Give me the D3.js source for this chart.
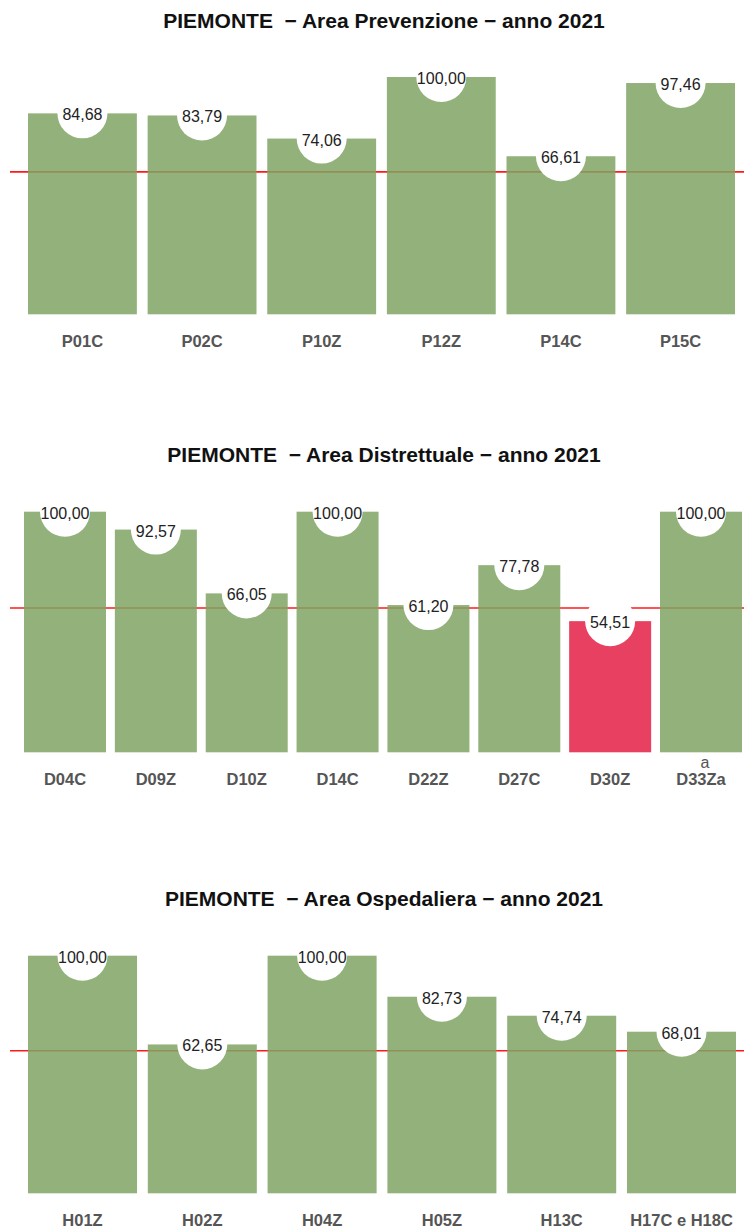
<!DOCTYPE html>
<html>
<head>
<meta charset="utf-8">
<script src="https://cdn.jsdelivr.net/npm/d3@7"></script>
<style>
  body { margin: 0; background: #fff; }
  text { font-family: "Liberation Sans", Arial, sans-serif; }
  .title { white-space: pre; }
</style>
</head>
<body>
<div id="chart"></div>
<script>
// Data
const titles = [
  'PIEMONTE  \u2212 Area Prevenzione \u2212 anno 2021',
  'PIEMONTE  \u2212 Area Distrettuale \u2212 anno 2021',
  'PIEMONTE  \u2212 Area Ospedaliera \u2212 anno 2021'
]
const prevCategories = ['P01C', 'P02C', 'P10Z', 'P12Z', 'P14C', 'P15C']
const prevValues = [84.68, 83.79, 74.06, 100.00, 66.61, 97.46]
const distCategories = ['D04C', 'D09Z', 'D10Z', 'D14C', 'D22Z', 'D27C', 'D30Z', 'D33Za']
const distValues = [100.00, 92.57, 66.05, 100.00, 61.20, 77.78, 54.51, 100.00]
const ospCategories = ['H01Z', 'H02Z', 'H04Z', 'H05Z', 'H13C', 'H17C e H18C']
const ospValues = [100.00, 62.65, 100.00, 82.73, 74.74, 68.01]
const threshold = 60

// Layout of each panel (pixels)
const panels = [
  { title: titles[0], cats: prevCategories, vals: prevValues, titleY: 28, top: 77, bottom: 314.3, x0: 28, x1: 735, pad: 0.09 },
  { title: titles[1], cats: distCategories, vals: distValues, titleY: 462, top: 511.7, bottom: 752.3, x0: 24, x1: 742, pad: 0.0975 },
  { title: titles[2], cats: ospCategories, vals: ospValues, titleY: 906, top: 955.7, bottom: 1193.3, x0: 28, x1: 736, pad: 0.09 }
]

const GREEN = 'rgb(128,165,100)'
const RED = 'rgb(228,31,68)'
const fmt = v => v.toFixed(2).replace('.', ',')

const svg = d3.select('#chart')
  .append('svg')
  .attr('width', 744)
  .attr('height', 1229)

panels.forEach(p => {
  const g = svg.append('g')
  const x = d3.scaleBand()
    .domain(p.cats)
    .range([p.x0, p.x1])
    .paddingInner(p.pad)
    .paddingOuter(0)
  const y = d3.scaleLinear()
    .domain([0, 100])
    .range([p.bottom, p.top])
  const rows = p.cats.map((c, i) => ({ cat: c, val: p.vals[i] }))

  // Title
  g.append('text')
    .attr('class', 'title')
    .attr('x', 384)
    .attr('y', p.titleY)
    .attr('text-anchor', 'middle')
    .attr('font-size', 21)
    .attr('font-weight', 'bold')
    .attr('fill', '#111')
    .text(p.title)

  // Reference line (under the semi-transparent bars)
  g.append('line')
    .attr('x1', 10)
    .attr('x2', 744)
    .attr('y1', y(threshold))
    .attr('y2', y(threshold))
    .attr('stroke', '#ff1a1a')
    .attr('stroke-width', 1.6)

  // Bars
  g.selectAll('rect.bar')
    .data(rows)
    .enter()
    .append('rect')
    .attr('class', 'bar')
    .attr('x', d => x(d.cat))
    .attr('y', d => y(d.val))
    .attr('width', x.bandwidth())
    .attr('height', d => y(0) - y(d.val))
    .attr('fill', d => d.val < threshold ? RED : GREEN)
    .attr('fill-opacity', 0.85)

  // White circles at bar tops
  g.selectAll('circle')
    .data(rows)
    .enter()
    .append('circle')
    .attr('cx', d => x(d.cat) + x.bandwidth() / 2)
    .attr('cy', d => y(d.val))
    .attr('r', 25)
    .attr('fill', '#fff')

  // Value labels
  g.selectAll('text.val')
    .data(rows)
    .enter()
    .append('text')
    .attr('class', 'val')
    .attr('x', d => x(d.cat) + x.bandwidth() / 2)
    .attr('y', d => y(d.val) + 7)
    .attr('text-anchor', 'middle')
    .attr('font-size', 16)
    .attr('fill', '#222')
    .text(d => fmt(d.val))

  // Category labels
  const lab = g.selectAll('text.cat')
    .data(rows)
    .enter()
    .append('text')
    .attr('class', 'cat')
    .attr('x', d => x(d.cat) + x.bandwidth() / 2)
    .attr('y', p.bottom + 33)
    .attr('text-anchor', 'middle')
    .attr('font-size', 16.5)
    .attr('font-weight', 'bold')
    .attr('fill', '#555')
    .text(d => d.cat)

  // wrapped label in the original: extra "a" line above "D33Za"
  lab.filter(d => d.cat === 'D33Za')
    .each(function (d) {
      d3.select(this.parentNode).append('text')
        .attr('x', x(d.cat) + x.bandwidth() / 2 + 4)
        .attr('y', p.bottom + 16)
        .attr('text-anchor', 'middle')
        .attr('font-size', 16)
        .attr('fill', '#555')
        .text('a')
    })
})
</script>
</body>
</html>
